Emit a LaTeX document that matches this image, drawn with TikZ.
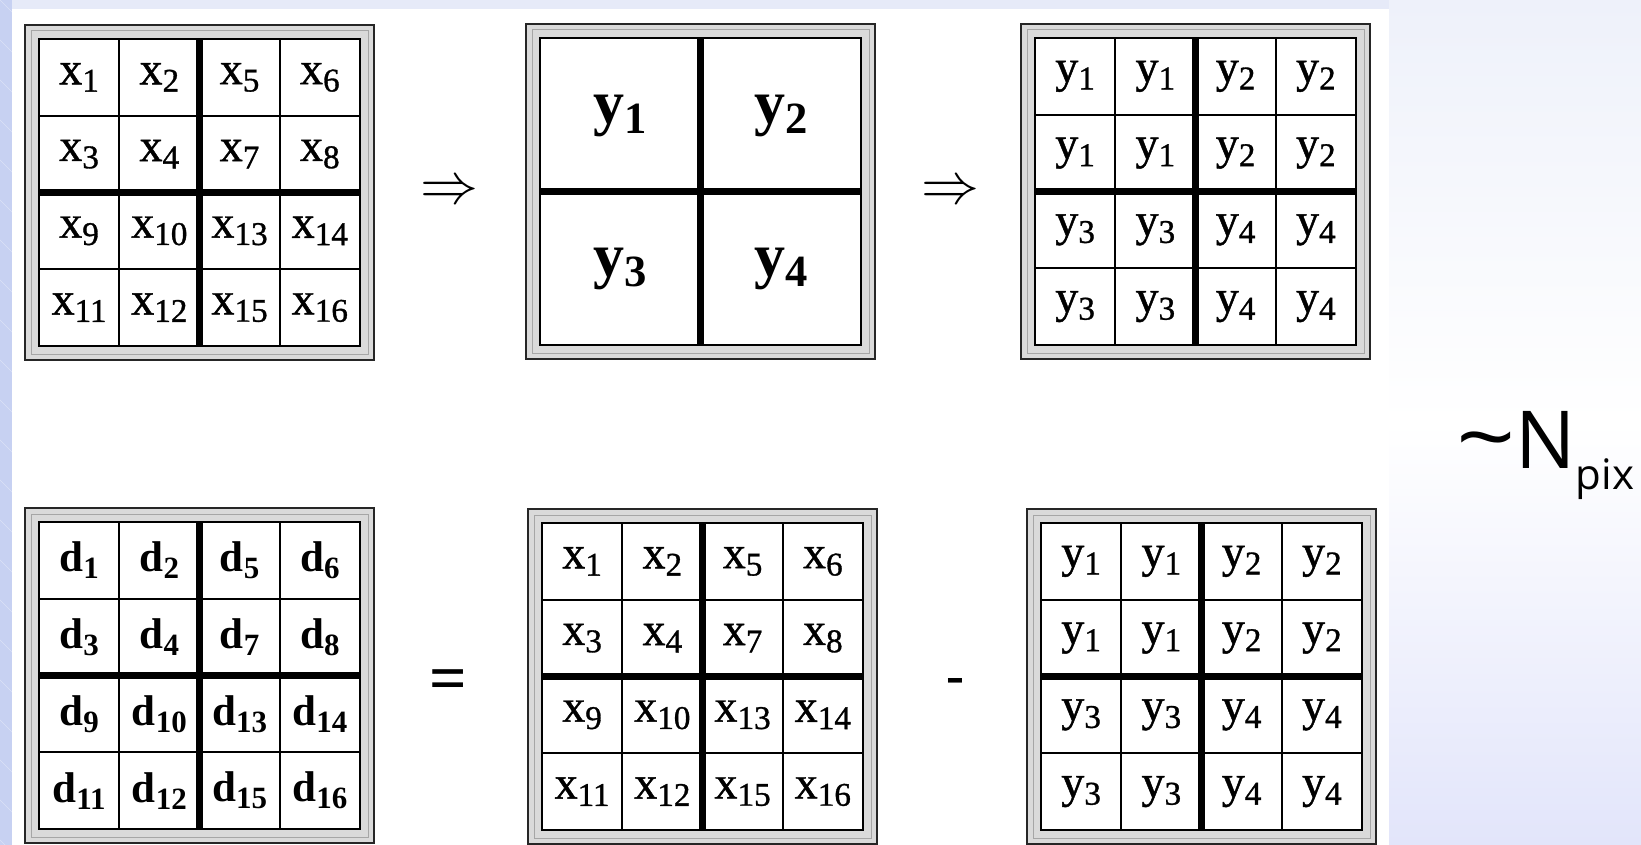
\documentclass[tikz,border=0pt]{standalone}
\usepackage{fontspec}
\setmainfont{Liberation Serif}
\newfontfamily\cellfont{Liberation Serif}[FakeBold=1]
\newfontfamily\npixfont{Open Sans}

\definecolor{stripblue}{HTML}{C7D1F2}
\definecolor{topblue}{HTML}{E6EAF8}
\definecolor{paleblue}{HTML}{EEF1FA}
\definecolor{bandgray}{HTML}{DADADA}

\tikzset{
  outerline/.style={draw=black!85, line width=2pt},
  midline/.style={draw=gray!70, line width=1pt},
  cellline/.style={line width=2pt},
  splitline/.style={line width=7pt},
  xlab/.style={font=\cellfont\fontsize{46}{50}\selectfont, inner sep=0pt},
  ylab/.style={font=\cellfont\fontsize{46}{50}\selectfont, inner sep=0pt},
  dlab/.style={font=\fontsize{43}{46}\selectfont\bfseries, inner sep=0pt},
  biglab/.style={font=\fontsize{62}{66}\selectfont\bfseries, inner sep=0pt},
  oplab/.style={font=\normalsize, inner sep=0pt},
}

% letter with a lowered digit
\newcommand\sublbl[2]{#1\raisebox{-0.16em}{\scalebox{0.72}{#2}}}

% double frame, origin = top left corner of the outer line
\newcommand\quadgrid[2]{%
  \fill[bandgray] (#1,#2) rectangle ++(349,335);
  \draw[outerline] (#1,#2) rectangle ++(349,335);
  \draw[midline] (#1+6,#2+6) rectangle ++(337,323);
  \fill[white] (#1+14,#2+14) rectangle ++(321,307);
  \draw[cellline] (#1+14,#2+14) rectangle ++(321,307);
}

% 4 x 4 cells with the thick middle cross
\newcommand\cellgrid[2]{%
  \quadgrid{#1}{#2}
  \foreach \k in {1,3} {
    \draw[cellline] (#1+14+80.25*\k,#2+14) -- ++(0,307);
    \draw[cellline] (#1+14,#2+14+76.75*\k) -- ++(321,0);
  }
  \draw[splitline] (#1+174.5,#2+14) -- ++(0,307);
  \draw[splitline] (#1+14,#2+167.5) -- ++(321,0);
}

% labels, row by row
\newcommand\celllabels[6]{%
  \foreach \s [count=\i from 0] in {#5} {
    \pgfmathtruncatemacro\cl{mod(\i,4)}
    \pgfmathtruncatemacro\rw{floor(\i/4)}
    \node[#3] (#6\i) at (#1+54.1+80.25*\cl, #2+52.4+76.75*\rw) {\sublbl{#4}{\s}};
  }
}

\begin{document}
\begin{tikzpicture}[x=1pt, y=-1pt]
  \useasboundingbox (0,0) rectangle (1641,845);

  % slide background
  \fill[paleblue] (0,0) rectangle (1641,845);
  \shade[top color=paleblue, bottom color=paleblue!95!blue, middle color=white] (1389,0) rectangle (1641,845);
  \fill[topblue] (0,0) rectangle (1389,9);
  \fill[stripblue] (0,0) rectangle (12,845);
  \begin{scope}
    \clip (0,0) rectangle (12,845);
    \foreach \t in {0,40,...,880}
      \draw[white, opacity=0.35, line width=0.6pt] (-20,\t-20) -- (32,\t+32);
  \end{scope}
  \fill[white] (12,9) rectangle (1389,845);

  % top row
  \cellgrid{25}{25}
  \celllabels{25}{25}{xlab}{x}{1,2,5,6,3,4,7,8,9,10,13,14,11,12,15,16}{xtop}

  \quadgrid{526}{24}
  \draw[splitline] (526+174.5,24+14) -- ++(0,307);
  \draw[splitline] (526+14,24+167.5) -- ++(321,0);
  \node[biglab] (ya) at (620,116) {\sublbl{y}{1}};
  \node[biglab] (yb) at (781,116) {\sublbl{y}{2}};
  \node[biglab] (yc) at (620,269) {\sublbl{y}{3}};
  \node[biglab] (yd) at (781,269) {\sublbl{y}{4}};

  \cellgrid{1021}{24}
  \celllabels{1021}{24}{ylab}{y}{1,1,2,2,1,1,2,2,3,3,4,4,3,3,4,4}{ytop}

  \node[oplab] (arra) at (449,193) {\scalebox{5.8}{$\Rightarrow$}};
  \node[oplab] (arrb) at (950,193) {\scalebox{5.8}{$\Rightarrow$}};

  % bottom row
  \cellgrid{25}{508}
  \celllabels{25}{508}{dlab}{d}{1,2,5,6,3,4,7,8,9,10,13,14,11,12,15,16}{dbot}

  \cellgrid{528}{509}
  \celllabels{528}{509}{xlab}{x}{1,2,5,6,3,4,7,8,9,10,13,14,11,12,15,16}{xbot}

  \cellgrid{1027}{509}
  \celllabels{1027}{509}{ylab}{y}{1,1,2,2,1,1,2,2,3,3,4,4,3,3,4,4}{ybot}

  \node[oplab, font=\fontsize{66}{70}\selectfont\bfseries] (eq) at (448,685) {=};
  \node[oplab, font=\fontsize{54}{60}\selectfont\bfseries] (minus) at (955,686) {-};

  \node[anchor=base west, inner sep=0pt, font=\npixfont\fontsize{80}{90}\selectfont] (npix) at (1456,468)
    {\scalebox{1.3}[1.1]{\textasciitilde}N\raisebox{-21pt}{\fontsize{42}{42}\selectfont pix}};
\end{tikzpicture}
\end{document}
